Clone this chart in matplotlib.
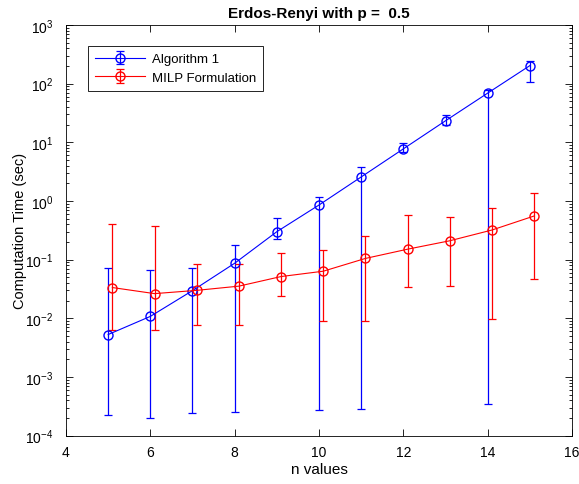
import matplotlib.pyplot as plt
from matplotlib.ticker import LogLocator, NullFormatter

plt.rcParams['font.family'] = ['Liberation Sans', 'DejaVu Sans']
plt.rcParams['mathtext.fontset'] = 'custom'
plt.rcParams['mathtext.rm'] = 'Liberation Sans'
plt.rcParams['mathtext.it'] = 'Liberation Sans'
plt.rcParams['mathtext.default'] = 'regular'

# Algorithm 1
n_alg = [5, 6, 7, 8, 9, 10, 11, 12, 13, 14, 15]
alg_mean = [0.0053, 0.0108, 0.0297, 0.087, 0.30, 0.855, 2.57, 7.74, 23.3, 69, 203]
alg_upper = [0.0716, 0.067, 0.0708, 0.177, 0.52, 1.16, 3.77, 9.6, 28.8, 78, 247]
alg_lower = [2.26e-4, 2.03e-4, 2.45e-4, 2.57e-4, 0.221, 2.75e-4, 2.88e-4, 6.98, 19.4, 3.45e-4, 105]

# MILP formulation (drawn at n + 0.1)
n_milp = [5.1, 6.1, 7.1, 8.1, 9.1, 10.1, 11.1, 12.1, 13.1, 14.1, 15.1]
milp_mean = [0.0335, 0.0264, 0.030, 0.0354, 0.0516, 0.0636, 0.105, 0.151, 0.21, 0.32, 0.555]
milp_upper = [0.40, 0.37, 0.0838, 0.086, 0.132, 0.148, 0.256, 0.57, 0.535, 0.76, 1.37]
milp_lower = [0.0064, 0.0064, 0.0076, 0.0078, 0.0241, 0.0089, 0.0091, 0.034, 0.0358, 0.0098, 0.047]

y_ticks = [1e-4, 1e-3, 1e-2, 1e-1, 1e0, 1e1, 1e2, 1e3]
y_ticklabels = ['$10^{-4}$', '$10^{-3}$', '$10^{-2}$', '$10^{-1}$',
                '$10^{0}$', '$10^{1}$', '$10^{2}$', '$10^{3}$']

alg_err = [[m - lo for m, lo in zip(alg_mean, alg_lower)],
           [hi - m for m, hi in zip(alg_mean, alg_upper)]]
milp_err = [[m - lo for m, lo in zip(milp_mean, milp_lower)],
            [hi - m for m, hi in zip(milp_mean, milp_upper)]]

fig = plt.figure(figsize=(5.79, 4.85), dpi=100)
ax = fig.add_axes([66 / 579, 1 - 436.7 / 485, (572 - 66) / 579, (436.7 - 26) / 485])

ax.errorbar(n_alg, alg_mean, yerr=alg_err, color='#0000ff', marker='o', mfc='none',
            markersize=6.5, linewidth=0.8, elinewidth=0.9, capsize=3, capthick=0.9,
            label='Algorithm 1')
ax.errorbar(n_milp, milp_mean, yerr=milp_err, color='#ff0000', marker='o', mfc='none',
            markersize=6.5, linewidth=0.8, elinewidth=0.9, capsize=3, capthick=0.9,
            label='MILP Formulation')

ax.set_yscale('log')
ax.set_xlim(4, 16)
ax.set_ylim(1e-4, 1e3)
ax.set_xticks([4, 6, 8, 10, 12, 14, 16])
ax.set_yticks(y_ticks)
ax.set_yticklabels(y_ticklabels)
ax.yaxis.set_minor_locator(LogLocator(base=10, subs=range(2, 10), numticks=20))
ax.yaxis.set_minor_formatter(NullFormatter())
ax.tick_params(which='both', direction='in', top=True, right=True, labelsize=10, width=0.6)
ax.tick_params(which='major', length=5)
ax.tick_params(which='minor', length=2.5)
ax.tick_params(axis='x', pad=7)
ax.tick_params(axis='y', pad=9)
for s in ax.spines.values():
    s.set_linewidth(0.6)

ax.set_title('Erdos-Renyi with p =  0.5', fontsize=11, fontweight='bold', pad=6)
ax.set_xlabel('n values', fontsize=11, labelpad=2)
ax.set_ylabel('Computation Time (sec)', fontsize=10.5, labelpad=-1)

leg = ax.legend(loc='upper left', bbox_to_anchor=(0.043, 0.949), borderaxespad=0,
                fontsize=9.5, fancybox=False, edgecolor='black', framealpha=1,
                borderpad=0.55, handlelength=3.8, handletextpad=0.5, labelspacing=0.45)
leg.get_frame().set_linewidth(0.6)

plt.savefig('out.png', dpi=100)
